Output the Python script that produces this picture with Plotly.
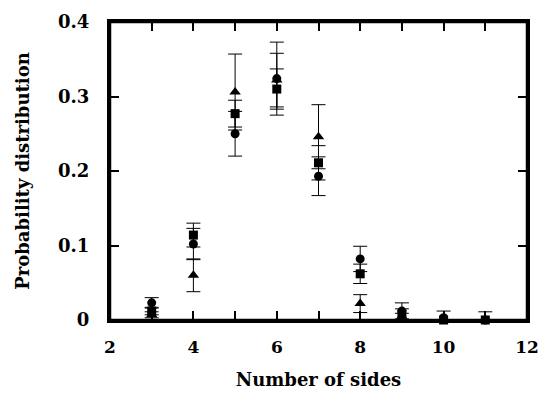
import plotly.graph_objects as go

sides = [3, 4, 5, 6, 7, 8, 9, 10, 11]

circle_vals = [0.023, 0.102, 0.250, 0.324, 0.193, 0.082, 0.012, 0.003, 0.000]
circle_err = [0.007, 0.021, 0.030, 0.049, 0.026, 0.017, 0.011, 0.009, 0.000]

square_vals = [0.012, 0.114, 0.277, 0.310, 0.211, 0.062, 0.008, 0.000, 0.000]
square_err = [0.005, 0.016, 0.018, 0.027, 0.023, 0.013, 0.007, 0.000, 0.000]

triangle_vals = [0.007, 0.060, 0.306, 0.322, 0.246, 0.022, 0.005, 0.000, 0.000]
triangle_err = [0.004, 0.022, 0.051, 0.036, 0.043, 0.012, 0.004, 0.000, 0.011]

x_tickvals = [2, 3, 4, 5, 6, 7, 8, 9, 10, 11, 12]
x_ticktext = ["2", "", "4", "", "6", "", "8", "", "10", "", "12"]
y_tickvals = [0, 0.1, 0.2, 0.3, 0.4]
y_ticktext = ["0", "0.1", "0.2", "0.3", "0.4"]

font_family = "DejaVu Serif"

fig = go.Figure()

def add_series(vals, errs, symbol, size):
    fig.add_trace(go.Scatter(
        x=sides, y=vals, mode="markers",
        marker=dict(symbol=symbol, size=size, color="black"),
        error_y=dict(type="data", array=errs, visible=True, color="black",
                     thickness=1, width=7),
        showlegend=False, cliponaxis=False,
    ))

add_series(triangle_vals, triangle_err, "triangle-up", 10)
add_series(square_vals, square_err, "square", 9)
add_series(circle_vals, circle_err, "circle", 9)

fig.update_layout(
    width=541, height=394,
    margin=dict(l=110, r=14, t=22, b=74),
    paper_bgcolor="white", plot_bgcolor="white",
    font=dict(family=font_family, color="black", size=18),
    shapes=[dict(type="rect", xref="paper", yref="paper", x0=0, x1=1, y0=0, y1=1,
                 line=dict(color="black", width=2.5), layer="above")],
)

fig.update_xaxes(
    range=[2, 12], tickvals=x_tickvals, ticktext=x_ticktext,
    ticks="inside", ticklen=9, tickwidth=2, tickcolor="black",
    showline=True, linecolor="black", linewidth=3, mirror="ticks",
    showgrid=False, zeroline=False, automargin=False,
    ticklabelstandoff=10, ticklabeloverflow="allow",
    tickfont=dict(family=font_family, size=17, weight="bold"),
    title=dict(text="<b>Number of sides</b>", font=dict(family=font_family, size=18), standoff=17),
)
fig.update_yaxes(
    range=[0, 0.4], tickvals=y_tickvals, ticktext=y_ticktext,
    ticks="inside", ticklen=9, tickwidth=2, tickcolor="black",
    showline=True, linecolor="black", linewidth=3, mirror="ticks",
    showgrid=False, zeroline=False, automargin=False,
    ticklabelstandoff=14, ticklabeloverflow="allow",
    tickfont=dict(family=font_family, size=18, weight="bold"),
    title=dict(text="<b>Probability distribution</b>", font=dict(family=font_family, size=18), standoff=24),
)

fig.write_html("out.html")
